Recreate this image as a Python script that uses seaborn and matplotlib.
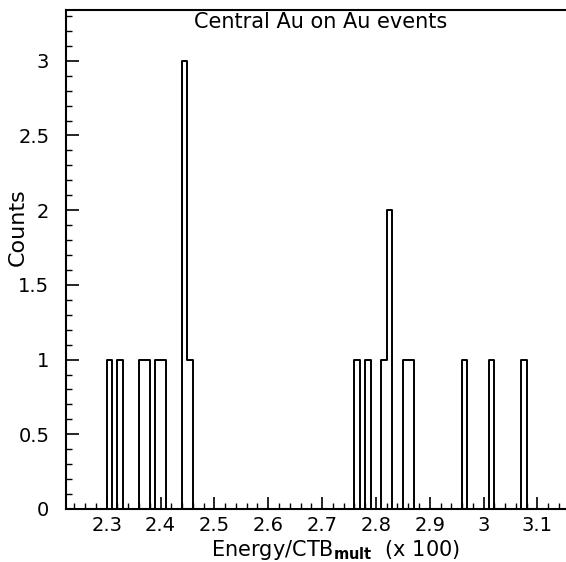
import numpy as np
import pandas as pd
import matplotlib
matplotlib.use("Agg")
import matplotlib.pyplot as plt
from matplotlib.ticker import MultipleLocator, FuncFormatter
import seaborn as sns

# ---- data ----
bin_left = [2.30, 2.32, 2.36, 2.37, 2.39, 2.40, 2.44, 2.45,
            2.76, 2.78, 2.81, 2.82, 2.85, 2.86, 2.96, 3.01, 3.07]
counts = [1, 1, 1, 1, 1, 1, 3, 1,
          1, 1, 1, 2, 1, 1, 1, 1, 1]
bin_width = 0.01
hist_range = (2.22, 3.17)
title_text = "Central Au on Au events"
xlabel_text = r"Energy/CTB$_{\mathbf{mult}}$  (x 100)"
ylabel_text = "Counts"

df = pd.DataFrame({"center": np.array(bin_left) + bin_width / 2,
                   "count": counts})

sns.set_theme(style="white")
plt.rcParams["font.family"] = ["DejaVu Sans"]
plt.rcParams["mathtext.fontset"] = "dejavusans"

fig = plt.figure(figsize=(5.66, 5.62), dpi=100)
ax = fig.add_axes([66 / 566, 53 / 562, 500 / 566, 499 / 562])

sns.histplot(data=df, x="center", weights="count", binwidth=bin_width,
             binrange=hist_range, element="step", fill=False,
             color="black", linewidth=1.4, ax=ax)

ax.set_xlim(2.2245, 3.153)
ax.set_ylim(0, 3.34)

for s in ["left", "bottom", "top"]:
    ax.spines[s].set_color("black")
    ax.spines[s].set_linewidth(1.5)
ax.spines["right"].set_visible(False)

ax.xaxis.set_major_locator(MultipleLocator(0.1))
ax.xaxis.set_minor_locator(MultipleLocator(0.02))
ax.yaxis.set_major_locator(MultipleLocator(0.5))
ax.yaxis.set_minor_locator(MultipleLocator(0.1))
fmt = FuncFormatter(lambda v, p: f"{v:g}")
ax.xaxis.set_major_formatter(fmt)
ax.yaxis.set_major_formatter(fmt)

ax.tick_params(axis="both", which="both", direction="in", colors="black",
               bottom=True, left=True, top=False, right=False, labelsize=14)
ax.tick_params(axis="both", which="major", length=9, width=1.2)
ax.tick_params(axis="both", which="minor", length=4.5, width=1.0)
ax.tick_params(axis="y", which="major", pad=12)
ax.tick_params(axis="x", which="major", pad=5)

ax.set_xlabel(xlabel_text, fontsize=15, color="black")
ax.set_ylabel(ylabel_text, fontsize=16, color="black")
ax.xaxis.set_label_coords(0.54, -0.058)
ax.yaxis.set_label_coords(-0.076, 0.565)

ax.text(0.51, 0.975, title_text, transform=ax.transAxes, ha="center",
        va="center", fontsize=15, color="black")

fig.savefig("out.png", dpi=100, facecolor="white")
